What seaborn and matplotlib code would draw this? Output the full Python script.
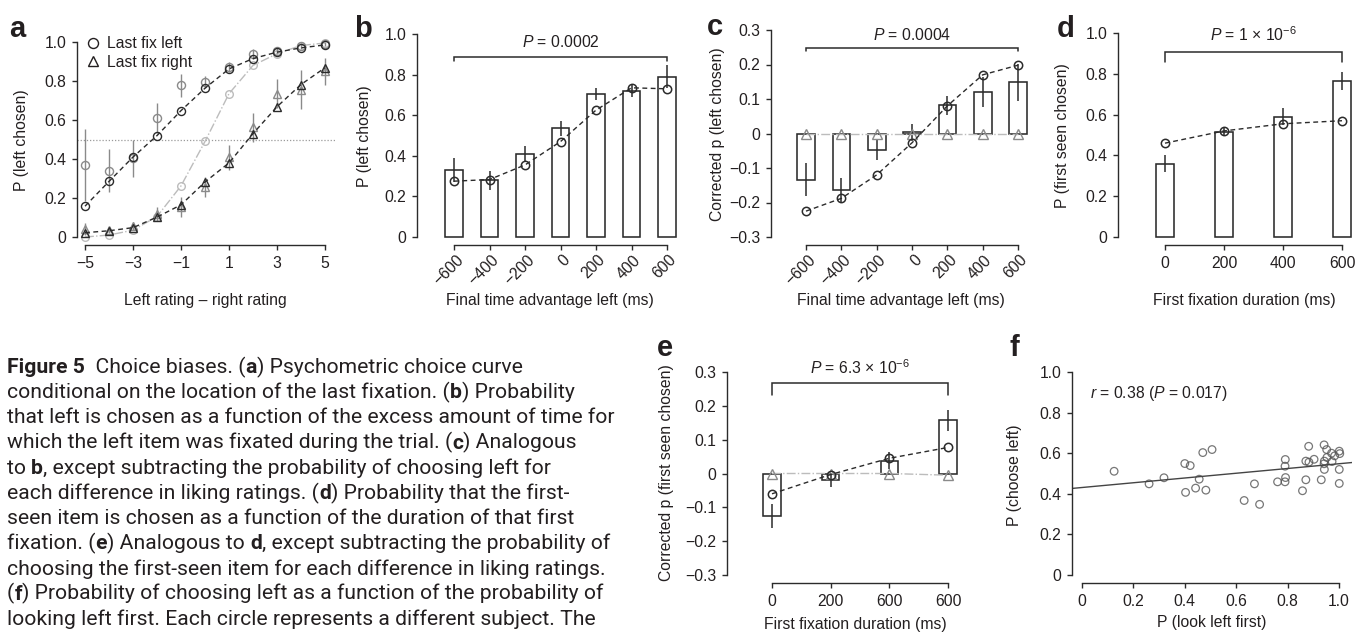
import matplotlib
matplotlib.use("Agg")
import matplotlib.pyplot as plt
from matplotlib.lines import Line2D
from matplotlib.transforms import ScaledTranslation
import seaborn as sns

# ---------------- data ----------------
# Panel a
rating_diff = [-5, -4, -3, -2, -1, 0, 1, 2, 3, 4, 5]
a_ticks = [-5, -3, -1, 1, 3, 5]
a_tick_labels = ["\u22125", "\u22123", "\u22121", "1", "3", "5"]
a_overall_model = [0.0, 0.01, 0.035, 0.105, 0.262, 0.49, 0.735, 0.88, 0.94, 0.982, 0.995]
a_left_model = [0.158, 0.285, 0.41, 0.52, 0.648, 0.763, 0.862, 0.915, 0.948, 0.97, 0.985]
a_left_data = [0.37, 0.34, 0.405, 0.612, 0.778, 0.795, 0.872, 0.94, 0.955, 0.978, 0.99]
a_left_err = [0.185, 0.11, 0.095, 0.077, 0.058, 0.03, 0.025, 0.025, 0.015, 0.015, 0.01]
a_right_model = [0.022, 0.032, 0.048, 0.102, 0.165, 0.282, 0.38, 0.53, 0.668, 0.782, 0.868]
a_right_data = [0.04, 0.034, 0.058, 0.118, 0.155, 0.256, 0.408, 0.562, 0.735, 0.755, 0.85]
a_right_err = [0.03, 0.015, 0.02, 0.035, 0.05, 0.05, 0.065, 0.075, 0.075, 0.1, 0.07]
a_yticks = [0, 0.2, 0.4, 0.6, 0.8, 1.0]
a_ytick_labels = ["0", "0.2", "0.4", "0.6", "0.8", "1.0"]

# Panels b, c
time_adv = [-600, -400, -200, 0, 200, 400, 600]
time_tick_labels = ["\u2212600", "\u2212400", "\u2212200", "0", "200", "400", "600"]
b_bar = [0.33, 0.28, 0.41, 0.535, 0.705, 0.72, 0.79]
b_err = [0.057, 0.047, 0.038, 0.035, 0.03, 0.03, 0.055]
b_model = [0.275, 0.283, 0.355, 0.47, 0.625, 0.735, 0.73]
b_pvalue = "$P$ = 0.0002"

c_bar = [-0.134, -0.165, -0.048, 0.003, 0.082, 0.121, 0.148]
c_err = [0.048, 0.036, 0.03, 0.025, 0.028, 0.043, 0.054]
c_model = [-0.225, -0.188, -0.12, -0.027, 0.08, 0.17, 0.198]
c_uncorrected = [0, 0, 0, 0, 0, 0, 0]
c_yticks = [-0.3, -0.2, -0.1, 0, 0.1, 0.2, 0.3]
c_ytick_labels = ["\u22120.3", "\u22120.2", "\u22120.1", "0", "0.1", "0.2", "0.3"]
c_pvalue = "$P$ = 0.0004"

# Panel d
first_fix = [0, 200, 400, 600]
d_tick_labels = ["0", "200", "400", "600"]
d_bar = [0.36, 0.515, 0.59, 0.765]
d_err = [0.043, 0.018, 0.04, 0.045]
d_model = [0.46, 0.52, 0.555, 0.57]
d_pvalue = "$P$ = 1 \u00d7 10$^{\u22126}$"

# Panel e
e_tick_labels = ["0", "200", "600", "600"]
e_bar = [-0.125, -0.02, 0.038, 0.157]
e_err = [0.036, 0.02, 0.025, 0.031]
e_model = [-0.06, -0.003, 0.045, 0.077]
e_uncorrected = [0, 0, 0, -0.005]
e_pvalue = "$P$ = 6.3 \u00d7 10$^{\u22126}$"

# Panel f
f_look_left_first = [0.125, 0.261, 0.319, 0.400, 0.421, 0.403, 0.442, 0.456, 0.470, 0.482,
                     0.506, 0.631, 0.671, 0.691, 0.761, 0.791, 0.790, 0.792, 0.790, 0.858,
                     0.871, 0.882, 0.871, 0.883, 0.903, 0.931, 0.942, 0.952, 0.943, 0.942,
                     0.943, 0.953, 0.971, 0.973, 0.983, 1.001, 1.003, 1.001, 1.001]
f_choose_left = [0.511, 0.449, 0.479, 0.549, 0.539, 0.407, 0.428, 0.472, 0.603, 0.418,
                 0.618, 0.367, 0.449, 0.348, 0.459, 0.569, 0.536, 0.480, 0.459, 0.415,
                 0.469, 0.634, 0.561, 0.556, 0.570, 0.469, 0.641, 0.618, 0.561, 0.548,
                 0.520, 0.579, 0.600, 0.559, 0.587, 0.610, 0.598, 0.520, 0.451]
f_ticks = [0, 0.2, 0.4, 0.6, 0.8, 1.0]
f_tick_labels = ["0", "0.2", "0.4", "0.6", "0.8", "1.0"]
f_stat = "$r$ = 0.38 ($P$ = 0.017)"

legend_labels = ["Last fix left", "Last fix right"]

caption_lines = [
    [("Figure 5", "bold"), ("  Choice biases. (", "normal"), ("a", "bold"), (") Psychometric choice curve", "normal")],
    [("conditional on the location of the last fixation. (", "normal"), ("b", "bold"), (") Probability", "normal")],
    [("that left is chosen as a function of the excess amount of time for", "normal")],
    [("which the left item was fixated during the trial. (", "normal"), ("c", "bold"), (") Analogous", "normal")],
    [("to ", "normal"), ("b", "bold"), (", except subtracting the probability of choosing left for", "normal")],
    [("each difference in liking ratings. (", "normal"), ("d", "bold"), (") Probability that the first-", "normal")],
    [("seen item is chosen as a function of the duration of that first", "normal")],
    [("fixation. (", "normal"), ("e", "bold"), (") Analogous to ", "normal"), ("d", "bold"),
     (", except subtracting the probability of", "normal")],
    [("choosing the first-seen item for each difference in liking ratings.", "normal")],
    [("(", "normal"), ("f", "bold"), (") Probability of choosing left as a function of the probability of", "normal")],
    [("looking left first. Each circle represents a different subject. The", "normal")],
]

# ---------------- style ----------------
sns.set_theme(style="ticks")
plt.rcParams["font.family"] = ["Liberation Sans", "DejaVu Sans"]
plt.rcParams["mathtext.fontset"] = "custom"
plt.rcParams["mathtext.rm"] = "Liberation Sans"
plt.rcParams["mathtext.it"] = "Liberation Sans:italic"
plt.rcParams["mathtext.bf"] = "Liberation Sans:bold"

INK = "#231f20"
DARK = "#2b2b2b"
GRAY = "#8a8a8a"
LIGHT = "#bcbcbc"
FS = 11.3
CAP_FONT = ["Roboto", "DejaVu Sans"]

W, H = 1356, 634
fig = plt.figure(figsize=(W / 100, H / 100), dpi=100)
fig.patch.set_facecolor("white")


def add_axes(box):
    l, r, t, b = box
    return fig.add_axes([l / W, 1 - b / H, (r - l) / W, (b - t) / H])


def set_limits(ax, box, xref, yref):
    l, r, t, b = box
    (xp0, xv0), (xp1, xv1) = xref
    sx = (xv1 - xv0) / (xp1 - xp0)
    ax.set_xlim(xv0 + (l - xp0) * sx, xv0 + (r - xp0) * sx)
    (yp0, yv0), (yp1, yv1) = yref
    sy = (yv1 - yv0) / (yp1 - yp0)
    ax.set_ylim(yv0 + (b - yp0) * sy, yv0 + (t - yp0) * sy)


def style_axis(ax, box, xticks, xlabels, yticks, ylabels, xlabel, ylabel,
               xlabel_px, ylabel_px, rotate=False):
    l, r, t, b = box
    sns.despine(ax=ax)
    for s in ("left", "bottom"):
        ax.spines[s].set_linewidth(1.0)
        ax.spines[s].set_color(DARK)
    ax.spines["left"].set_bounds(yticks[0], yticks[-1])
    ax.spines["bottom"].set_bounds(xticks[0], xticks[-1])
    ax.set_xticks(xticks, xlabels)
    ax.set_yticks(yticks, ylabels)
    ax.tick_params(axis="both", direction="out", length=3.6, width=1.0, color=DARK,
                   labelsize=FS, labelcolor=INK, pad=4)
    ax.set_xlabel(xlabel, fontsize=FS, color=INK, va="center", ha="center")
    ax.set_ylabel(ylabel, fontsize=FS, color=INK, va="center", ha="center")
    ax.xaxis.set_label_coords((xlabel_px[0] - l) / (r - l), (b - xlabel_px[1]) / (b - t))
    ax.yaxis.set_label_coords((ylabel_px[0] - l) / (r - l), (b - ylabel_px[1]) / (b - t))
    if rotate:
        off = ScaledTranslation(7 / 100, -2 / 100, fig.dpi_scale_trans)
        for lab in ax.get_xticklabels():
            lab.set_rotation(45)
            lab.set_rotation_mode("anchor")
            lab.set_ha("right")
            lab.set_va("center")
            lab.set_transform(lab.get_transform() + off)
    ax.set_facecolor("none")


def bracket(ax, x0, x1, ytop, yend, text, ytext):
    ax.plot([x0, x0, x1, x1], [yend, ytop, ytop, yend], color=DARK, lw=1.1,
            solid_joinstyle="miter", zorder=5)
    ax.text((x0 + x1) / 2, ytext, text, ha="center", va="center", fontsize=FS, color=INK)


def bar_panel(ax, xs, bars, errs, model, width, base=None):
    sns.barplot(x=xs, y=bars, native_scale=True, width=width, color="white",
                edgecolor=DARK, linewidth=1.15, errorbar=None, saturation=1, ax=ax, zorder=2)
    ax.errorbar(xs, bars, yerr=errs, fmt="none", ecolor=DARK, elinewidth=1.1, capsize=0, zorder=3)
    if base is not None:
        sns.lineplot(x=xs, y=base, ax=ax, color=LIGHT, linestyle="-.", lw=1.0, marker="^",
                     markersize=6.5, markerfacecolor="none", markeredgecolor=GRAY,
                     markeredgewidth=1.0, errorbar=None, zorder=4)
    sns.lineplot(x=xs, y=model, ax=ax, color=DARK, linestyle=(0, (3.5, 2.5)), lw=1.0, marker="o",
                 markersize=6, markerfacecolor="none", markeredgecolor=DARK,
                 markeredgewidth=1.1, errorbar=None, zorder=6)


# ---------------- panel a ----------------
box_a = (77, 335, 30, 245)
ax = add_axes(box_a)
ax.axhline(0.5, color="#9a9a9a", lw=0.9, ls=(0, (1, 1.5)), zorder=1)
sns.lineplot(x=rating_diff, y=a_overall_model, ax=ax, color=LIGHT, linestyle="-.", lw=1.0,
             marker="o", markersize=5.5, markerfacecolor="none", markeredgecolor=LIGHT,
             markeredgewidth=1.0, errorbar=None, zorder=2)
ax.errorbar(rating_diff, a_left_data, yerr=a_left_err, fmt="o", ms=5.8, mfc="none", mec=GRAY,
            mew=1.0, ecolor=GRAY, elinewidth=1.0, capsize=0, zorder=3)
ax.errorbar(rating_diff, a_right_data, yerr=a_right_err, fmt="^", ms=6.3, mfc="none", mec=GRAY,
            mew=1.0, ecolor=GRAY, elinewidth=1.0, capsize=0, zorder=3)
sns.lineplot(x=rating_diff, y=a_left_model, ax=ax, color=DARK, linestyle=(0, (3.5, 2.5)), lw=1.0,
             marker="o", markersize=5.8, markerfacecolor="none", markeredgecolor=DARK,
             markeredgewidth=1.0, errorbar=None, zorder=4)
sns.lineplot(x=rating_diff, y=a_right_model, ax=ax, color=DARK, linestyle=(0, (3.5, 2.5)), lw=1.0,
             marker="^", markersize=6.3, markerfacecolor="none", markeredgecolor=DARK,
             markeredgewidth=1.0, errorbar=None, zorder=4)
set_limits(ax, box_a, ((85, -5), (325, 5)), ((237, 0), (42, 1.0)))
style_axis(ax, box_a, a_ticks, a_tick_labels, a_yticks, a_ytick_labels,
           "Left rating \u2013 right rating", "P (left chosen)", (205, 301), (22, 140))
handles = [Line2D([], [], marker="o", ls="none", mfc="none", mec=INK, ms=7.2, mew=1.0),
           Line2D([], [], marker="^", ls="none", mfc="none", mec=INK, ms=7.8, mew=1.0)]
l, r, t, b = box_a
ax.legend(handles, legend_labels, loc="center left",
          bbox_to_anchor=((86.5 - l) / (r - l), (b - 53) / (b - t)), frameon=False,
          fontsize=FS, handlelength=0.8, handletextpad=0.5, labelspacing=0.22,
          borderpad=0, borderaxespad=0, labelcolor=INK)

# ---------------- panel b ----------------
box_b = (417, 677, 28, 245)
ax = add_axes(box_b)
bar_panel(ax, time_adv, b_bar, b_err, b_model, 0.5)
set_limits(ax, box_b, ((454, -600), (667, 600)), ((237, 0), (34, 1.0)))
bracket(ax, -600, 600, 0.885, 0.867, b_pvalue, 0.962)
style_axis(ax, box_b, time_adv, time_tick_labels, a_yticks, a_ytick_labels,
           "Final time advantage left (ms)", "P (left chosen)", (550, 301), (365, 136), rotate=True)

# ---------------- panel c ----------------
box_c = (771, 1030, 22, 245)
ax = add_axes(box_c)
bar_panel(ax, time_adv, c_bar, c_err, c_model, 0.5, base=c_uncorrected)
set_limits(ax, box_c, ((806, -600), (1018, 600)), ((237, -0.3), (30, 0.3)))
bracket(ax, -600, 600, 0.248, 0.238, c_pvalue, 0.285)
style_axis(ax, box_c, time_adv, time_tick_labels, c_yticks, c_ytick_labels,
           "Final time advantage left (ms)", "Corrected p (left chosen)", (901, 301), (717, 134),
           rotate=True)

# ---------------- panel d ----------------
box_d = (1118, 1352, 24, 245)
ax = add_axes(box_d)
bar_panel(ax, first_fix, d_bar, d_err, d_model, 0.29)
set_limits(ax, box_d, ((1165, 0), (1342, 600)), ((237, 0), (33, 1.0)))
bracket(ax, 0, 600, 0.905, 0.86, d_pvalue, 0.99)
style_axis(ax, box_d, first_fix, d_tick_labels, a_yticks, a_ytick_labels,
           "First fixation duration (ms)", "P (first seen chosen)", (1244, 301), (1063, 136))

# ---------------- panel e ----------------
box_e = (727, 962, 355, 583)
ax = add_axes(box_e)
bar_panel(ax, first_fix, e_bar, e_err, e_model, 0.3, base=e_uncorrected)
set_limits(ax, box_e, ((772, 0), (948, 600)), ((575, -0.3), (372, 0.3)))
bracket(ax, 0, 600, 0.268, 0.232, e_pvalue, 0.312)
style_axis(ax, box_e, first_fix, e_tick_labels, c_yticks, c_ytick_labels,
           "First fixation duration (ms)", "Corrected p (first seen chosen)", (855, 625), (667, 473))

# ---------------- panel f ----------------
box_f = (1072, 1352, 365, 583)
ax = add_axes(box_f)
set_limits(ax, box_f, ((1082, 0), (1339, 1.0)), ((575, 0), (372, 1.0)))
sns.regplot(x=f_look_left_first, y=f_choose_left, ax=ax, ci=None, truncate=False,
            scatter_kws=dict(s=30, facecolors="none", edgecolors="#555555", linewidths=0.9),
            line_kws=dict(color="#444444", lw=1.0))
set_limits(ax, box_f, ((1082, 0), (1339, 1.0)), ((575, 0), (372, 1.0)))
ax.text(0.031, 0.895, f_stat, ha="left", va="center", fontsize=FS, color=INK)
style_axis(ax, box_f, f_ticks, f_tick_labels, f_ticks, f_tick_labels,
           "P (look left first)", "P (choose left)", (1212, 623), (1014, 475))

# ---------------- panel letters ----------------
for letter, (x, y) in zip("abcdef", [(9, 37), (354, 37), (707, 35), (1057, 37), (657, 356), (1009, 356)]):
    fig.text(x / W, 1 - y / H, letter, fontsize=21, fontweight="bold", color=INK,
             ha="left", va="baseline")

# ---------------- caption ----------------
renderer = fig.canvas.get_renderer()


def text_width(s, weight, size):
    t = fig.text(0, 0, "|" + s + "|", fontsize=size, fontfamily=CAP_FONT, fontweight=weight)
    w = t.get_window_extent(renderer).width
    t.remove()
    t2 = fig.text(0, 0, "||", fontsize=size, fontfamily=CAP_FONT, fontweight=weight)
    w2 = t2.get_window_extent(renderer).width
    t2.remove()
    return w - w2


ref_line = caption_lines[-1]
ref_w = sum(text_width(s, wt, 12) for s, wt in ref_line)
cap_size = 12 * 586 / ref_w
cap_x0, cap_y0, cap_dy = 7, 373, 25.2
for i, line in enumerate(caption_lines):
    x = cap_x0
    y = cap_y0 + i * cap_dy
    for s, wt in line:
        fig.text(x / W, 1 - y / H, s, fontsize=cap_size, fontfamily=CAP_FONT, fontweight=wt,
                 color=INK, ha="left", va="baseline")
        x += text_width(s, wt, cap_size)

fig.savefig("out.png", dpi=100, facecolor="white")
